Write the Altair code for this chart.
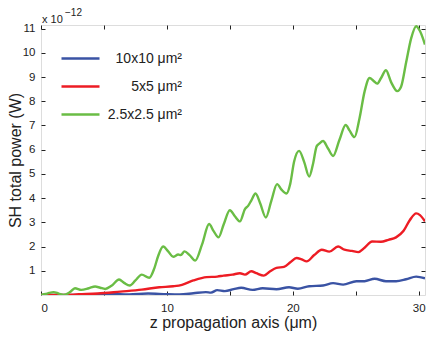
import altair as alt
import pandas as pd

# ---- data (values in units of 1e-12 W) ----
green_x = [0.0, 0.5, 1.0, 1.4, 1.8, 2.3, 2.7, 3.2, 3.8, 4.3, 4.7, 5.1, 5.6, 6.2, 6.6, 7.05, 7.5, 8.0,
           8.6, 9.0, 9.3, 9.7, 10.1, 10.5, 10.9, 11.1, 11.4, 11.8, 12.25, 12.8, 13.35, 13.7, 14.1, 14.5,
           15.0, 15.4, 15.8, 16.2, 16.45, 16.7, 17.04, 17.4, 17.86, 18.3, 18.75, 19.1, 19.5, 19.8, 20.1,
           20.5, 20.9, 21.3, 21.6, 21.9, 22.1, 22.4, 22.8, 23.2, 23.7, 24.2, 24.5, 24.9, 25.3, 25.7, 26.1,
           26.4, 26.7, 27.0, 27.4, 27.8, 28.3, 28.6, 29.0, 29.4, 29.8, 30.1, 30.5]
green_y = [0.0, 0.06, 0.12, 0.06, 0.0, 0.12, 0.28, 0.21, 0.28, 0.35, 0.3, 0.25, 0.38, 0.64, 0.5, 0.39, 0.6, 0.84,
           0.71, 1.1, 1.6, 2.0, 1.8, 1.58, 1.67, 1.65, 1.8, 1.65, 1.42, 2.1, 2.93, 2.65, 2.38, 2.9,
           3.5, 3.25, 3.04, 3.55, 3.68, 3.9, 4.19, 3.8, 3.2, 3.9, 4.58, 4.35, 4.19, 4.6, 5.5,
           5.95, 5.5, 4.89, 5.4, 6.15, 6.25, 6.36, 6.05, 5.74, 6.4, 7.02, 6.8, 6.52, 7.3, 8.4, 8.96,
           8.85, 8.73, 8.95, 9.28, 8.8, 8.42, 8.6, 9.6, 10.6, 11.1, 10.9, 10.34]

red_x = [0.0, 1.8, 3.0, 4.5, 6.3, 8.0, 9.4, 10.5, 11.2, 12.1, 13.15, 14.0, 14.5, 15.2, 15.8, 16.2, 16.7, 17.1,
         17.7, 18.2, 18.7, 19.3, 19.8, 20.3, 20.7, 21.1, 21.7, 22.3, 22.9, 23.6, 24.1, 24.7, 25.2, 25.7,
         26.3, 27.0, 27.6, 28.2, 28.8, 29.3, 29.8, 30.1, 30.5]
red_y = [0.0, 0.0, 0.03, 0.06, 0.14, 0.22, 0.32, 0.36, 0.42, 0.6, 0.74, 0.76, 0.8, 0.84, 0.9, 0.84, 0.98, 0.9,
         0.8, 0.98, 1.12, 1.16, 1.35, 1.53, 1.47, 1.39, 1.65, 1.87, 1.79, 2.0, 1.87, 1.82, 1.77, 1.95,
         2.21, 2.2, 2.28, 2.38, 2.65, 3.1, 3.37, 3.3, 3.04]

blue_x = [0.0, 4.0, 5.5, 7.0, 8.5, 10.0, 11.0, 12.1, 13.1, 13.5, 14.0, 14.6, 15.3, 15.9, 16.8, 17.6, 18.7,
          19.7, 20.4, 21.3, 22.4, 23.2, 24.0, 25.05, 25.7, 26.5, 27.4, 28.2, 29.0, 29.8, 30.5]
blue_y = [0.0, 0.0, 0.04, 0.02, 0.06, 0.03, 0.02, 0.07, 0.12, 0.1, 0.2, 0.16, 0.24, 0.3, 0.21, 0.28, 0.24,
          0.32, 0.26, 0.36, 0.39, 0.49, 0.43, 0.57, 0.57, 0.67, 0.57, 0.57, 0.65, 0.76, 0.69]

series_names = ["10x10 \u03bcm\u00b2", "5x5 \u03bcm\u00b2", "2.5x2.5 \u03bcm\u00b2"]
series_colors = ["#3A53A4", "#ED1C24", "#6ABD45"]
x_ticks = [0, 5, 10, 15, 20, 25, 30]
y_ticks = [1, 2, 3, 4, 5, 6, 7, 8, 9, 10, 11]

frames = []
for name, xs, ys in zip(series_names, [blue_x, red_x, green_x], [blue_y, red_y, green_y]):
    frames.append(pd.DataFrame({"z": xs, "P": ys, "series": name}))
df = pd.concat(frames, ignore_index=True)

FONT = "Liberation Sans"
INK = "#222"
xscale = alt.Scale(domain=[0, 30.5], nice=False, zero=False)
yscale = alt.Scale(domain=[0, 11.15], nice=False, zero=False)

lines = alt.Chart(df).mark_line(strokeWidth=2.4, interpolate="monotone", clip=True).encode(
    x=alt.X("z:Q", scale=xscale,
            axis=alt.Axis(title="z propagation axis (\u03bcm)", values=x_ticks,
                          labelExpr="datum.value % 10 == 0 ? datum.label : ''",
                          grid=False, domain=False, offset=-4, tickSize=4, tickColor=INK,
                          labelPadding=7, labelFontSize=11.5, labelColor=INK,
                          titleFontSize=16, titleFontWeight="normal", titleColor=INK,
                          titleBaseline="alphabetic", titleY=36)),
    y=alt.Y("P:Q", scale=yscale,
            axis=alt.Axis(title="SH total power (W)", values=y_ticks, grid=False, domain=False,
                          offset=-4, tickSize=4, tickColor=INK, labelPadding=6,
                          labelFontSize=11.5, labelColor=INK, titleFontSize=16,
                          titleFontWeight="normal", titleColor=INK,
                          titleBaseline="alphabetic", titleX=-25)),
    color=alt.Color("series:N", scale=alt.Scale(domain=series_names, range=series_colors),
                    sort=series_names,
                    legend=alt.Legend(title=None, orient="none", legendX=19, legendY=13,
                                      symbolType="stroke", symbolStrokeWidth=2.4,
                                      symbolSize=1444, labelFontSize=14, labelColor=INK,
                                      labelAlign="right", labelOffset=81, rowPadding=-8)),
)

# top / right ticks (no labels)
frame_axes = alt.Chart(df).mark_line(opacity=0).encode(
    x=alt.X("z:Q", scale=xscale,
            axis=alt.Axis(orient="top", title=None, values=x_ticks, labels=False, grid=False,
                          domain=False, offset=-4, tickSize=4, tickColor=INK)),
    y=alt.Y("P:Q", scale=yscale,
            axis=alt.Axis(orient="right", title=None, values=y_ticks, labels=False, grid=False,
                          domain=False, offset=-4, tickSize=4, tickColor=INK)),
)

exp_base = alt.Chart(pd.DataFrame({"t": ["x 10"]})).mark_text(
    align="left", baseline="alphabetic", fontSize=11, font=FONT, color=INK
).encode(x=alt.value(1), y=alt.value(-2.5), text="t:N")
exp_pow = alt.Chart(pd.DataFrame({"t": ["\u221212"]})).mark_text(
    align="left", baseline="alphabetic", fontSize=10, font=FONT, color=INK
).encode(x=alt.value(24), y=alt.value(-9.5), text="t:N")

chart = alt.layer(lines, frame_axes, exp_base, exp_pow).resolve_axis(
    x="independent", y="independent"
).properties(
    width=384, height=270,
    autosize=alt.AutoSizeParams(type="none"),
    padding={"left": 33, "top": 17, "right": 3, "bottom": 37},
).configure_view(stroke=INK, strokeWidth=1).configure(font=FONT)

chart.save("out.html", embed_options={"renderer": "svg", "actions": False})
